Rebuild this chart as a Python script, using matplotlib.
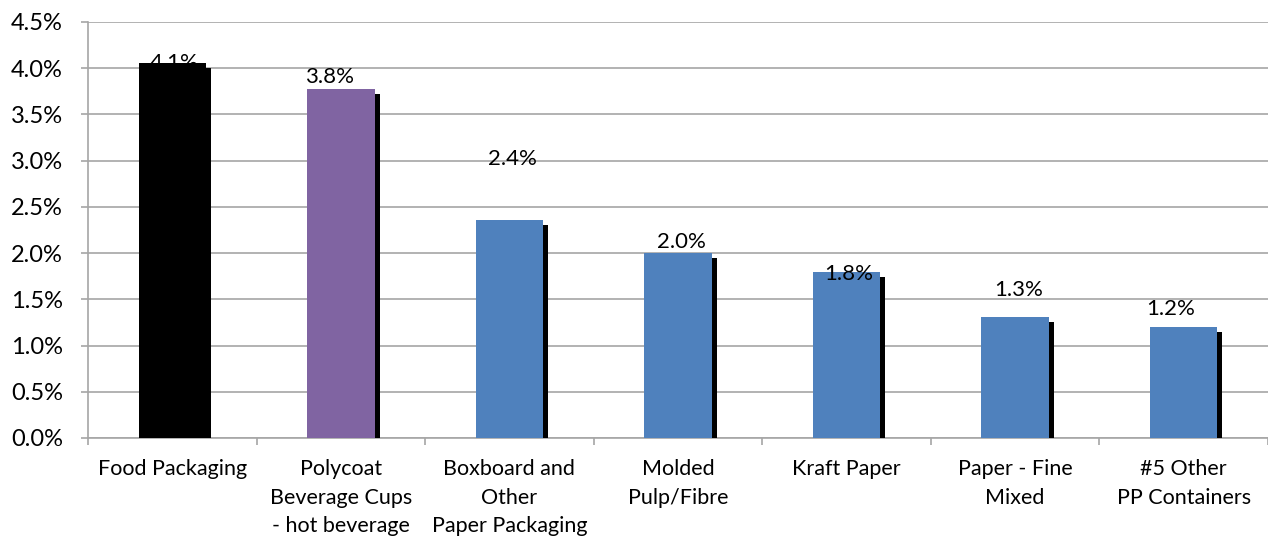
import numpy as np
import matplotlib.pyplot as plt
import matplotlib.patheffects as pe
from matplotlib.ticker import FuncFormatter, MultipleLocator

plt.rcParams['font.family'] = ['Lato', 'DejaVu Sans']

categories = ['Food Packaging', 'Polycoat\nBeverage Cups\n- hot beverage',
              'Boxboard and\nOther\nPaper Packaging', 'Molded\nPulp/Fibre',
              'Kraft Paper', 'Paper - Fine\nMixed', '#5 Other\nPP Containers']
shares = [4.06, 3.77, 2.36, 2.0, 1.8, 1.31, 1.2]
colors = ['#000000', '#8064A2', '#4F81BD', '#4F81BD', '#4F81BD', '#4F81BD', '#4F81BD']

# where the value labels sit (y in %, x shift in category units)
label_y = [4.06, 3.9, 3.02, 2.12, 1.77, 1.6, 1.39]
label_dx = [0.01, -0.07, 0.02, 0.02, 0.01, 0.02, -0.08]

fig = plt.figure(figsize=(12.68, 5.39), dpi=100)
ax = fig.add_axes([0.0694, 0.1874, 0.9306, 0.7718])

x = np.arange(len(categories))
bars = ax.bar(x, shares, width=0.4, color=colors, zorder=3)
for b in bars:
    b.set_path_effects([pe.SimplePatchShadow(offset=(3.6, -3.6), shadow_rgbFace='black', alpha=1.0),
                        pe.Normal()])

for xi, v, ly, dx in zip(x, shares, label_y, label_dx):
    ax.text(xi + dx, ly, f'{v:.1f}%', ha='center', va='center', fontsize=16, zorder=4)

ax.set_xlim(-0.5, len(categories) - 0.5)
ax.set_ylim(0, 4.5)
ax.yaxis.set_major_locator(MultipleLocator(0.5))
ax.yaxis.set_major_formatter(FuncFormatter(lambda v, p: f'{v:.1f}%'))
ax.grid(axis='y', color='#A6A6A6', linewidth=1.2, zorder=0)

ax.set_xticks(x)
ax.set_xticklabels(categories, fontsize=15.5, linespacing=1.55, va='top')
ax.set_xticks(np.arange(len(categories) + 1) - 0.5, minor=True)
ax.tick_params(axis='x', which='major', length=0, pad=15)
ax.tick_params(axis='x', which='minor', length=5, color='#A6A6A6', width=1.2)
ax.tick_params(axis='y', length=5, color='#A6A6A6', width=1.2, labelsize=17, pad=13)

for s in ['top', 'right']:
    ax.spines[s].set_visible(False)
for s in ['left', 'bottom']:
    ax.spines[s].set_color('#A6A6A6')
    ax.spines[s].set_linewidth(1.2)

fig.savefig('out.png', dpi=100)
